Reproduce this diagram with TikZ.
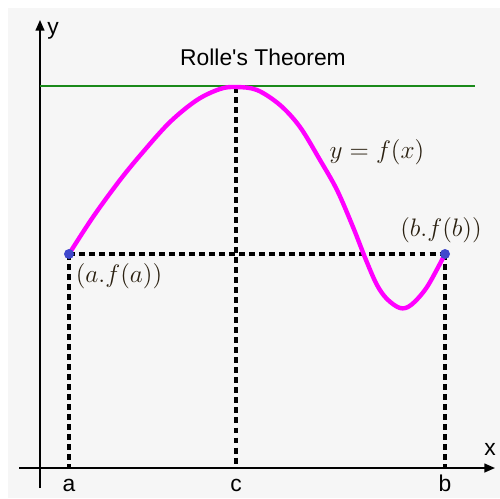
\documentclass[tikz,border=0pt]{standalone}
\usepackage{fontspec}
\setmainfont{Liberation Sans}
\usetikzlibrary{arrows.meta}

\definecolor{bggray}{HTML}{F6F6F6}
\definecolor{curvemag}{HTML}{FF00FF}
\definecolor{levelgreen}{HTML}{1A8A1A}
\definecolor{dotblue}{HTML}{4048CC}
\definecolor{mathink}{HTML}{2A2010}

\begin{document}
\begin{tikzpicture}[x=0.02cm,y=-0.02cm,
    axis/.style={line width=0.9pt,-{Triangle[length=6pt,width=5pt]}},
    guide/.style={line width=2pt,dash pattern=on 3.4pt off 2.3pt},
    lbl/.style={font=\fontsize{13}{15}\selectfont},
    mlbl/.style={text=mathink,font=\fontsize{14}{16}\selectfont}
]

% Frame and background
\useasboundingbox (0,0) rectangle (500,498);
\fill[bggray] (8,8) rectangle (500,498);

% End points of f and the top point
\coordinate (A) at (69,254);
\coordinate (B) at (445,254);
\coordinate (C) at (236,87);

% Feet on the x axis
\coordinate (a) at (69,468);
\coordinate (b) at (445,468);
\coordinate (c) at (236,468);

% Axis ends
\coordinate (xs) at (19,468);
\coordinate (xe) at (495,468);
\coordinate (ys) at (40,488);
\coordinate (ye) at (40,20);

% Level line ends
\coordinate (L) at (40,86);
\coordinate (R) at (475,86);

% --- Dashed guides ---
\draw[guide] (A) -- (B);
\draw[guide] (A) -- (a);
\draw[guide] (B) -- (b);
\draw[guide] (C) -- (c);

% --- Axes ---
\draw[axis] (xs) -- (xe);
\draw[axis] (ys) -- (ye);

% Horizontal tangent at the top
\draw[levelgreen,line width=1.6pt] (L) -- (R);

% The curve y = f(x)
\draw[curvemag,line width=2.5pt,line cap=round,line join=round]
    plot[smooth,tension=0.55] coordinates {
    (69,254) (93,217) (120,180) (143,152) (170,122) (197,100) (220,89)
    (236,87) (257,90) (280,105) (300,127) (320,160) (337,190) (353,227)
    (366,260) (377,285) (387,299) (400,308) (411,305) (427,287) (445,254)};

% End point dots
\fill[dotblue] (A) circle (5);
\fill[dotblue] (B) circle (5);

% --- Labels ---
\node[lbl] (title) at (263,57) {Rolle\textquotesingle s Theorem};
\node[lbl] (ylbl) at (53,31) {y};
\node[lbl] (xlbl) at (490,449) {x};
\node[lbl,anchor=base] (albl) at (69,491) {a};
\node[lbl,anchor=base] (clbl) at (236,491) {c};
\node[lbl,anchor=base] (blbl) at (445,491) {b};

\node[mlbl] (Albl) at (119,276) {$(a.f(a))$};
\node[mlbl] (Blbl) at (441,230) {$(b.f(b))$};
\node[mlbl] (flbl) at (377,152) {$y=f(x)$};

\end{tikzpicture}
\end{document}
